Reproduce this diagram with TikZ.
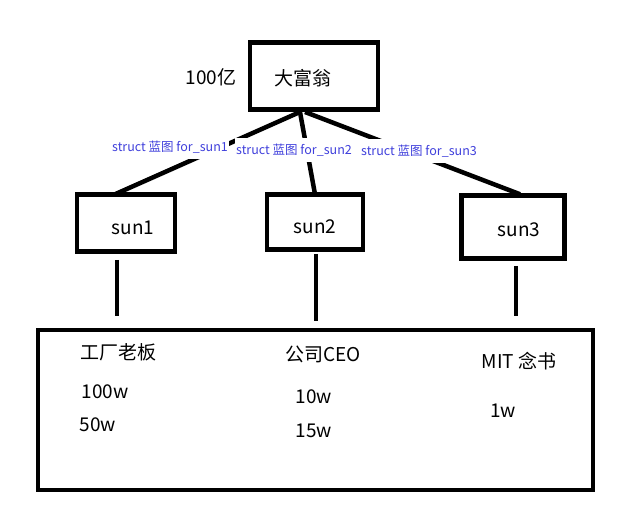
\documentclass[tikz,border=0pt]{standalone}
\usepackage{fontspec}
\setmainfont{Noto Sans CJK SC}
\usepackage{xcolor}
\usetikzlibrary{positioning,calc}

\definecolor{labelblue}{RGB}{64,64,220}

\begin{document}
\begin{tikzpicture}[
  x=1pt, y=-1pt,
  every node/.style={align=center, inner sep=0pt},
  box/.style={draw=black, line width=4.5pt},
  link/.style={black, line width=4.5pt},
  txt/.style={font=\fontsize{19}{22}\selectfont},
  tag/.style={font=\fontsize{12.5}{15}\selectfont, text=labelblue,
              fill=white, inner xsep=1pt, inner ysep=6pt},
]
\useasboundingbox (0,0) rectangle (632,532);

% top
\node[box, minimum width=128pt, minimum height=67pt] (rich) at (314,76) {};
\node[txt] (richname) at (303,78) {大富翁};
\node[txt] (money) at (211,77) {100亿};
\coordinate (hub) at (300,112);

% children
\node[box, minimum width=98pt, minimum height=57pt] (sun1) at (126,223) {};
\node[box, minimum width=96pt, minimum height=55pt] (sun2) at (315,222) {};
\node[box, minimum width=103pt, minimum height=63pt] (sun3) at (513,227) {};
\node[txt] (name1) at (133,228) {sun1};
\node[txt] (name2) at (315,227) {sun2};
\node[txt] (name3) at (519,230) {sun3};

\draw[link] (hub) -- ([xshift=-11pt,yshift=-2pt]sun1.north);
\draw[link] (hub) -- ([yshift=-2pt]sun2.north);
\draw[link] ([xshift=5pt]hub) -- ([xshift=7pt,yshift=-1pt]sun3.north);

\node[tag] (tag1) at (170,147) {struct 蓝图 for\_sun1};
\node[tag] (tag2) at (294,150) {struct 蓝图 for\_sun2};
\node[tag] (tag3) at (419,151) {struct 蓝图 for\_sun3};

% bottom
\node[box, minimum width=555pt, minimum height=160pt] (world) at (315.5,410) {};

\foreach \s/\dx/\a/\b in {sun1/-9/6/12, sun2/1/2/7, sun3/3/5/12}{
  \draw[link, shorten <=\a pt, shorten >=\b pt]
    ([xshift=\dx pt]\s.south) -- ([xshift=\dx pt]\s.south |- world.north);
}

\node[txt] (job1) at (118,352) {工厂老板};
\node[txt] (pay1a) at (105,392) {100w};
\node[txt] (pay1b) at (98,425) {50w};
\node[txt] (job2) at (323,354) {公司CEO};
\node[txt] (pay2a) at (314,397) {10w};
\node[txt] (pay2b) at (314,431) {15w};
\node[txt] (job3) at (519,361) {MIT 念书};
\node[txt] (pay3) at (503,411) {1w};

\end{tikzpicture}
\end{document}
